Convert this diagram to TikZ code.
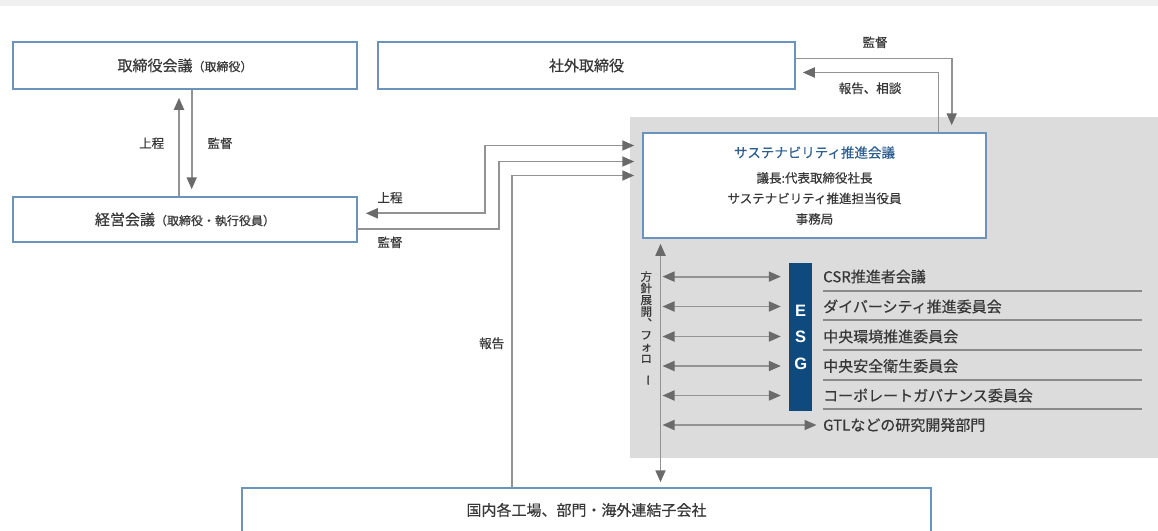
\documentclass[tikz,border=0pt]{standalone}
\usepackage{fontspec}
\usepackage{graphicx}
\setmainfont{Noto Sans CJK JP}[FakeBold=0.5]
\newfontfamily\esgfont{Liberation Sans}
\usetikzlibrary{arrows.meta}
\definecolor{boxblue}{HTML}{6C94BA}
\definecolor{linegray}{HTML}{939393}
\definecolor{headgray}{HTML}{6A6A6A}
\definecolor{panelgray}{HTML}{DCDCDD}
\definecolor{bandgray}{HTML}{F0F0F0}
\definecolor{txt}{HTML}{383838}
\definecolor{titleblue}{HTML}{2E5F90}
\definecolor{esgblue}{HTML}{0E4A7E}
\definecolor{sepgray}{HTML}{8A8A8A}
\begin{document}
\begin{tikzpicture}[x=1pt,y=-1pt,
  >={Triangle[length=12pt,width=10pt,color=headgray]},
  box/.style={draw=boxblue, line width=1.5pt, fill=white, inner sep=0pt, text=txt},
  conn/.style={draw=linegray, line width=1.8pt},
  arr/.style={conn,->},
  dbl/.style={conn,<->},
  lab/.style={text=txt, inner sep=0pt, font=\fontsize{12.5}{14}\selectfont},
  item/.style={text=txt, inner sep=0pt, anchor=west, font=\fontsize{15}{17}\selectfont},
  sepline/.style={draw=sepgray, line width=1.8pt},
  big/.style={font=\fontsize{15}{17}\selectfont}]
\useasboundingbox (0,0) rectangle (1158,530);
\clip (0,0) rectangle (1158,530);
% background
\fill[bandgray] (0,0) rectangle (1158,5.7);
\fill[panelgray] (630,117.3) rectangle (1158,458.3);

% boxes
\node[box, big, minimum width=344pt, minimum height=47pt] (board) at (185,65.5)
  {取締役会議{\fontsize{12}{13}\selectfont （取締役）}};
\node[box, big, minimum width=417pt, minimum height=47pt] (outside) at (586.5,65.5) {社外取締役};
\node[box, big, minimum width=344pt, minimum height=45pt] (mgmt) at (185,219.5)
  {経営会議{\fontsize{12}{13}\selectfont （取締役・執行役員）}};
\node[box, minimum width=343pt, minimum height=105pt, align=center,
  font=\fontsize{12.5}{20.5}\selectfont] (sust) at (814.5,185.5)
  {{\color{titleblue}\fontsize{13.5}{20.5}\selectfont サステナビリティ推進会議}\\[4.5pt]
   議長:代表取締役社長\\サステナビリティ推進担当役員\\事務局};
\node[box, big, minimum width=689pt, minimum height=44pt] (bottom) at (586.5,510)
  {国内各工場、部門・海外連結子会社};

% ESG bar and items
\node[fill=esgblue, minimum width=23.3pt, minimum height=147.4pt, inner sep=0pt,
  text=white, align=center, font=\esgfont\bfseries\fontsize{16.5}{26.5}\selectfont]
  (esg) at (800.7,337) {E\\S\\G};
\node[item] (l1) at (823,276.6) {CSR推進者会議};
\node[item] (l2) at (823,306.5) {ダイバーシティ推進委員会};
\node[item] (l3) at (823,336.5) {中央環境推進委員会};
\node[item] (l4) at (823,366) {中央安全衛生委員会};
\node[item] (l5) at (823,395.5) {コーポレートガバナンス委員会};
\node[item] (l6) at (823,425) {GTLなどの研究開発部門};
\draw[sepline] (823,290.7) -- (1142,290.7);
\draw[sepline] (823,320) -- (1142,320);
\draw[sepline] (823,350) -- (1142,350);
\draw[sepline] (823,380) -- (1142,380);
\draw[sepline] (823,409.3) -- (1142,409.3);

% labels
\node[lab] (t1) at (151.7,143.3) {上程};
\node[lab] (t2) at (220,143.3) {監督};
\node[lab] (t3) at (390,197.7) {上程};
\node[lab] (t4) at (390,242.3) {監督};
\node[lab] (t5) at (875,42.3) {監督};
\node[lab] (t6) at (870,88.3) {報告、相談};
\node[lab] (t7) at (491.7,343.3) {報告};
\node[lab, align=center, font=\fontsize{11.5}{11.7}\selectfont] (vlab) at (646.3,328.5)
  {方\\針\\展\\開\\︑\\フ\\ォ\\ロ\\\rotatebox{-90}{ー}};

% connectors
\coordinate (vline) at (660.5,0);
\draw[arr, shorten >=8pt] ([xshift=-6pt]mgmt.north) -- ([xshift=-6pt]board.south);
\draw[arr, shorten >=7pt] ([xshift=6.7pt]board.south) -- ([xshift=6.7pt]mgmt.north);
\draw[dbl, shorten <=8pt, shorten >=8pt] ([yshift=40pt]sust.west) -- (485,145.5) -- (485,213.3) -- ([yshift=6.2pt]mgmt.east);
\draw[arr, shorten >=8pt] ([yshift=-9.5pt]mgmt.east) -- (499,229) -- (499,161.5) -- ([yshift=24pt]sust.west);
\draw[arr, shorten >=8pt] ([xshift=-74.2pt]bottom.north) -- (512.3,175.5) -- ([yshift=10pt]sust.west);
\draw[arr, shorten >=7pt] ([yshift=7pt]outside.east) -- (951.7,58.5) -- ([xshift=137.2pt]sust.north);
\draw[arr, shorten >=7pt] ([xshift=124pt]sust.north) -- (938.5,72.5) -- ([yshift=-7pt]outside.east);
\draw[dbl, shorten <=5pt, shorten >=5pt] (vline |- sust.south) -- (vline |- bottom.north);
\draw[dbl, shorten >=8pt] ([xshift=2pt]vline |- l1) -- (esg.west |- l1);
\draw[dbl, shorten >=8pt] ([xshift=2pt]vline |- l2) -- (esg.west |- l2);
\draw[dbl, shorten >=8pt] ([xshift=2pt]vline |- l3) -- (esg.west |- l3);
\draw[dbl, shorten >=8pt] ([xshift=2pt]vline |- l4) -- (esg.west |- l4);
\draw[dbl, shorten >=8pt] ([xshift=2pt]vline |- l5) -- (esg.west |- l5);
\draw[dbl, shorten >=6.5pt] ([xshift=2pt]vline |- l6) -- (l6.west);
\end{tikzpicture}
\end{document}
